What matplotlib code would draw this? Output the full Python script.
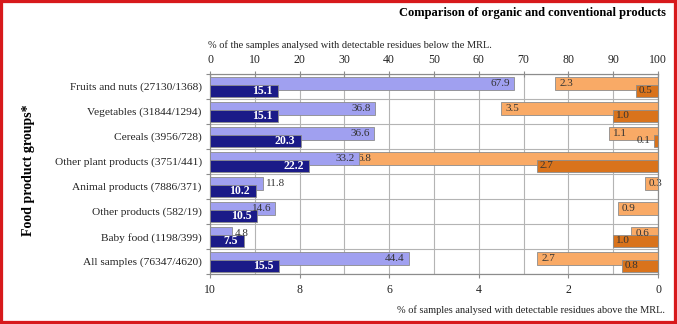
import numpy as np
import matplotlib
matplotlib.use("Agg")
import matplotlib.pyplot as plt
from matplotlib.patches import Rectangle

plt.rcParams['font.family'] = ['Liberation Serif', 'DejaVu Serif']

# data
categories = [
    "Fruits and nuts (27130/1368)",
    "Vegetables (31844/1294)",
    "Cereals (3956/728)",
    "Other plant products (3751/441)",
    "Animal products (7886/371)",
    "Other products (582/19)",
    "Baby food (1198/399)",
    "All samples (76347/4620)",
]
conv_below = [67.9, 36.8, 36.6, 33.2, 11.8, 14.6, 4.8, 44.4]
org_below = [15.1, 15.1, 20.3, 22.2, 10.2, 10.5, 7.5, 15.5]
conv_above = [2.3, 3.5, 1.1, 6.8, 0.3, 0.9, 0.6, 2.7]
org_above = [0.5, 1.0, 0.1, 2.7, np.nan, np.nan, 1.0, 0.8]
top_ticks = list(range(0, 101, 10))
bottom_ticks = [10, 8, 6, 4, 2, 0]

light_blue = '#a0a0f0'
dark_blue = '#1a1a88'
light_orange = '#f9aa66'
dark_orange = '#d9731c'
edge = '#8c8c8c'
grid_col = '#b4b4b4'

fig = plt.figure(figsize=(6.77, 3.24), dpi=100)
ax = fig.add_axes([210 / 677, 50 / 324, 448 / 677, 200 / 324])
ax_top = ax.twiny()

rows = np.arange(len(categories))
y_light = rows + 0.365
y_dark = rows + 0.665

# bottom scale: % above MRL, drawn from the right edge
ax.set_xlim(10, 0)
ax.set_ylim(len(categories), 0)
ax.barh(y_light, conv_above, height=0.53, color=light_orange, edgecolor=edge, linewidth=0.6, zorder=3)
ax.barh(y_dark, np.nan_to_num(org_above), height=0.47, color=dark_orange, edgecolor=edge, linewidth=0.6, zorder=4)

ax.set_xticks(bottom_ticks)
ax.set_xticks(range(1, 10, 2), minor=True)
ax.grid(True, axis='x', which='both', color=grid_col, linewidth=0.8, zorder=0)
ax.set_yticks(range(len(categories) + 1))
ax.set_yticklabels([])
ax.set_yticks(rows + 0.5, minor=True)
ax.set_yticklabels(categories, minor=True, fontsize=8.2, color='#222222')
ax.grid(True, axis='y', which='major', color=grid_col, linewidth=0.8, zorder=0)
ax.tick_params(axis='y', which='major', length=3, color=edge)
ax.tick_params(axis='y', which='minor', length=0, pad=6)
ax.tick_params(axis='x', which='major', length=3, color=edge, labelsize=8.5, pad=4, labelcolor='#222222')
ax.tick_params(axis='x', which='minor', length=0)
ax.set_axisbelow(True)

# top scale: % below MRL
ax_top.set_xlim(0, 100)
ax_top.barh(y_light, conv_below, height=0.53, color=light_blue, edgecolor=edge, linewidth=0.6, zorder=3)
ax_top.barh(y_dark, org_below, height=0.47, color=dark_blue, edgecolor=edge, linewidth=0.6, zorder=4)
ax_top.set_xticks(top_ticks)
ax_top.tick_params(axis='x', length=5, direction='inout', color=edge, labelsize=8.5, pad=3,
                   labelcolor='#222222')

for a in (ax, ax_top):
    for s in a.spines.values():
        s.set_color(edge)
        s.set_linewidth(0.8)

# value labels
for yl, yd, v, w in zip(y_light, y_dark, conv_below, org_below):
    if v > 13:
        ax_top.annotate(f"{v:.1f}", (v, yl), xytext=(-3, 0), textcoords='offset points',
                        ha='right', va='center', fontsize=8, color='#333333', zorder=6)
    else:
        ax_top.annotate(f"{v:.1f}", (v, yl), xytext=(2, 0), textcoords='offset points',
                        ha='left', va='center', fontsize=8, color='#333333', zorder=6)
    ax_top.annotate(f"{w:.1f}", (w, yd), xytext=(-4, 0), textcoords='offset points',
                    ha='right', va='center', fontsize=8.5, color='white', fontweight='bold', zorder=6)

for yl, yd, v, w in zip(y_light, y_dark, conv_above, org_above):
    ax.annotate(f"{v:.1f}", (v, yl), xytext=(3, 0), textcoords='offset points',
                ha='left', va='center', fontsize=8, color='#333333', zorder=6)
    if np.isnan(w):
        continue
    if w < 0.3:
        ax.annotate(f"{w:.1f}", (w, yd), xytext=(-2, 0), textcoords='offset points',
                    ha='right', va='center', fontsize=8, color='#333333', zorder=6)
    else:
        ax.annotate(f"{w:.1f}", (w, yd), xytext=(2, 0), textcoords='offset points',
                    ha='left', va='center', fontsize=8, color='#333333', zorder=6)

fig.text(666 / 677, 1 - 13 / 324, "Comparison of organic and conventional products",
         ha='right', va='center', fontsize=9, fontweight='bold')
fig.text(208 / 677, 1 - 45 / 324, "% of the samples analysed with detectable residues below the MRL.",
         ha='left', va='center', fontsize=7.5, color='#222222')
fig.text(665 / 677, 1 - 310 / 324, "% of samples analysed with detectable residues above the MRL.",
         ha='right', va='center', fontsize=7.5, color='#222222')
fig.text(29 / 677, 1 - 170 / 324, "Food product groups*", rotation=90,
         ha='center', va='center', fontsize=10, fontweight='bold')

fig.patches.append(Rectangle((0, 0), 1, 1, transform=fig.transFigure, fill=False,
                             edgecolor='#d7191c', linewidth=4.5))

fig.savefig('out.png', dpi=100)
